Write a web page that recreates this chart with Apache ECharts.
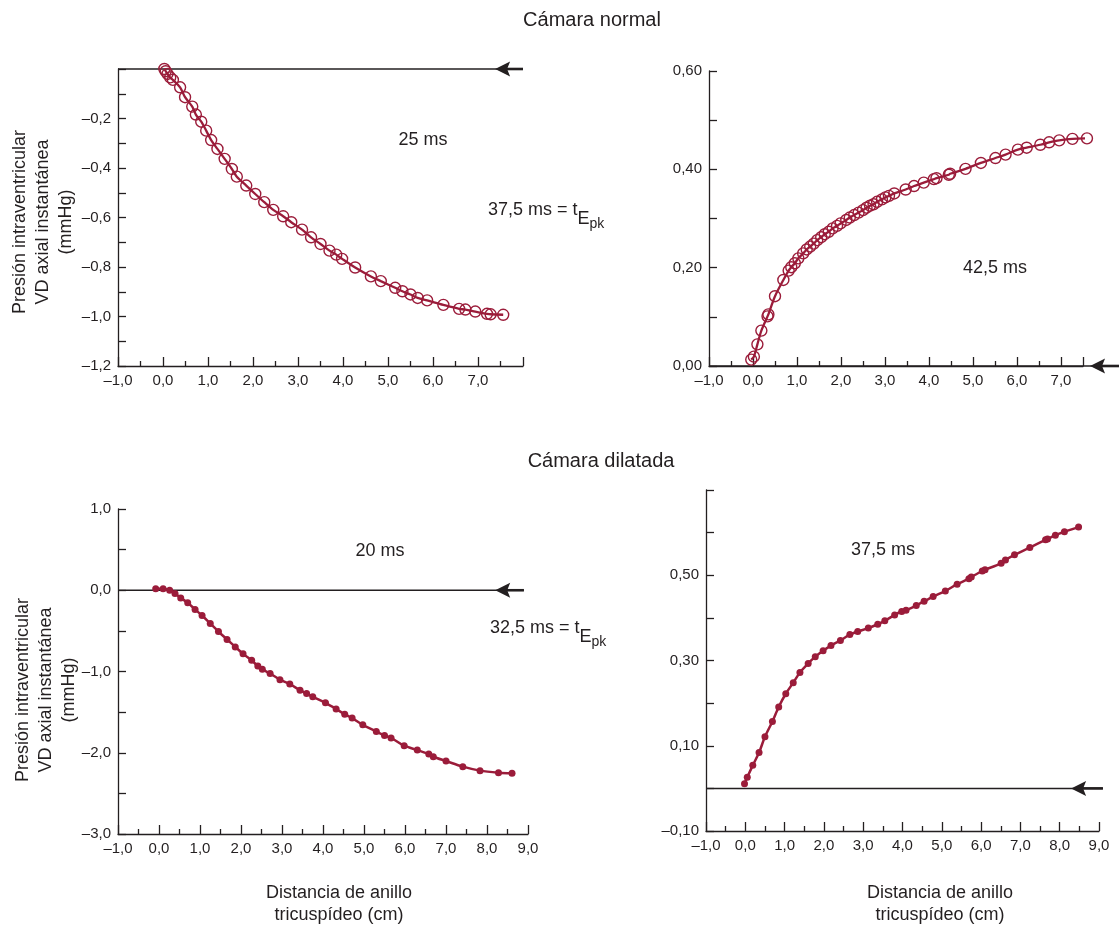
<!DOCTYPE html>
<html>
<head>
<meta charset="utf-8">
<script src="https://cdn.jsdelivr.net/npm/echarts@6/dist/echarts.min.js"></script>
<style>
  html, body { margin: 0; background: #fff; }
  #chart { width: 1119px; height: 928px; }
</style>
</head>
<body>
<div id="chart"></div>
<script>
// Cámara normal, 25 ms (open circles)
const normal25X = [0.03, 0.06, 0.10, 0.16, 0.22, 0.38, 0.49, 0.65, 0.73, 0.85, 0.96, 1.07, 1.21, 1.37, 1.53, 1.64,
  1.85, 2.05, 2.25, 2.45, 2.67, 2.85, 3.09, 3.29, 3.50, 3.70, 3.85, 3.98, 4.27, 4.62, 4.84, 5.16, 5.32, 5.50,
  5.66, 5.87, 6.23, 6.58, 6.72, 6.94, 7.20, 7.28, 7.56];
const normal25Y = [0.0, -0.009, -0.02, -0.034, -0.044, -0.074, -0.114, -0.152, -0.184, -0.213, -0.249, -0.287,
  -0.323, -0.363, -0.404, -0.435, -0.471, -0.505, -0.538, -0.569, -0.595, -0.619, -0.649, -0.680, -0.707, -0.734,
  -0.750, -0.767, -0.802, -0.838, -0.857, -0.884, -0.898, -0.911, -0.925, -0.935, -0.953, -0.969, -0.972, -0.980,
  -0.989, -0.991, -0.993];

// Cámara normal, 42,5 ms (open circles)
const normal42X = [-0.04, 0.02, 0.10, 0.19, 0.33, 0.35, 0.50, 0.69, 0.81, 0.87, 0.95, 1.03, 1.14, 1.22, 1.30, 1.38,
  1.46, 1.55, 1.63, 1.72, 1.81, 1.91, 1.99, 2.12, 2.20, 2.30, 2.40, 2.50, 2.58, 2.66, 2.74, 2.82, 2.93, 3.01, 3.09,
  3.21, 3.47, 3.66, 3.88, 4.11, 4.17, 4.45, 4.48, 4.83, 5.18, 5.51, 5.74, 6.02, 6.22, 6.53, 6.73, 6.96, 7.26, 7.59];
const normal42Y = [0.013, 0.019, 0.044, 0.072, 0.101, 0.105, 0.142, 0.175, 0.194, 0.201, 0.209, 0.219, 0.229, 0.237,
  0.243, 0.249, 0.256, 0.262, 0.268, 0.273, 0.280, 0.285, 0.290, 0.297, 0.302, 0.307, 0.312, 0.317, 0.322, 0.326,
  0.329, 0.334, 0.339, 0.343, 0.346, 0.351, 0.359, 0.366, 0.373, 0.380, 0.382, 0.389, 0.391, 0.401, 0.413, 0.423,
  0.430, 0.440, 0.444, 0.450, 0.455, 0.459, 0.462, 0.463];

// Cámara dilatada, 20 ms (filled dots)
const dilated20X = [-0.08, 0.10, 0.26, 0.39, 0.53, 0.70, 0.88, 1.05, 1.25, 1.45, 1.66, 1.86, 2.05, 2.26, 2.41, 2.52,
  2.71, 2.95, 3.19, 3.44, 3.60, 3.75, 4.06, 4.32, 4.53, 4.71, 4.97, 5.30, 5.50, 5.66, 5.98, 6.30, 6.58, 6.69, 7.00,
  7.41, 7.83, 8.28, 8.61];
const dilated20Y = [0.02, 0.02, 0.0, -0.039, -0.094, -0.154, -0.236, -0.311, -0.409, -0.508, -0.606, -0.697, -0.783,
  -0.862, -0.933, -0.972, -1.025, -1.100, -1.154, -1.232, -1.270, -1.311, -1.386, -1.461, -1.527, -1.573, -1.656,
  -1.739, -1.788, -1.817, -1.913, -1.967, -2.016, -2.049, -2.102, -2.171, -2.220, -2.245, -2.253];

// Cámara dilatada, 37,5 ms (filled dots)
const dilated37X = [-0.02, 0.05, 0.19, 0.35, 0.50, 0.69, 0.85, 1.03, 1.22, 1.39, 1.60, 1.78, 1.98, 2.18, 2.42, 2.66,
  2.86, 3.13, 3.37, 3.55, 3.80, 3.98, 4.09, 4.35, 4.55, 4.78, 5.09, 5.39, 5.69, 5.75, 6.03, 6.10, 6.51, 6.62, 6.85,
  7.24, 7.64, 7.69, 7.89, 8.12, 8.48];
const dilated37Y = [0.011, 0.026, 0.054, 0.084, 0.121, 0.157, 0.191, 0.222, 0.248, 0.272, 0.293, 0.309, 0.323, 0.335,
  0.347, 0.361, 0.368, 0.376, 0.385, 0.393, 0.407, 0.415, 0.418, 0.429, 0.439, 0.450, 0.463, 0.479, 0.492, 0.496,
  0.510, 0.513, 0.528, 0.536, 0.548, 0.565, 0.583, 0.585, 0.594, 0.602, 0.613];

// axis ranges: [min, max, interval]
const xRanges = [[-1, 8, 1], [-1, 7.5, 1], [-1, 9, 1], [-1, 9, 1]];
const xLabelMax = [7, 7, 9, 9];
const yRanges = [[-1.2, 0, 0.2], [0, 0.6, 0.2], [-3, 1, 1], [-0.1, 0.7, 0.1]];
const yDecimals = [1, 2, 1, 2];
// zero reference line (y = 0): where it ends on the right, and where the arrow tip sits
const zeroLineEnd = [8.0, 8.32, 8.9, 9.1];
const arrowTip = [7.38, 7.66, 8.2, 8.29];

const RED = '#9b1c3a';
const INK = '#231f20';
const FONT = "'Liberation Sans', Arial, Helvetica, sans-serif";

function fmt(v, d) {
  v = Math.round(v * 1000) / 1000;
  return (v < 0 ? '\u2013' : '') + Math.abs(v).toFixed(d).replace('.', ',');
}

const grids = [
  { left: 118, top: 69, width: 405, height: 297 },
  { left: 709, top: 71, width: 374, height: 295 },
  { left: 118, top: 509, width: 410, height: 325 },
  { left: 706, top: 490, width: 393, height: 341 }
];

const xAxes = xRanges.map((r, i) => ({
  type: 'value', gridIndex: i, min: r[0], max: r[1], interval: r[2],
  axisLine: { onZero: false, lineStyle: { color: INK, width: 1.3 } },
  axisTick: { show: true, inside: true, length: 9, lineStyle: { color: INK, width: 1.3 } },
  minorTick: { show: true, splitNumber: 2, length: 5, lineStyle: { color: INK, width: 1.3 } },
  splitLine: { show: false },
  axisLabel: {
    margin: 7, fontSize: 15, color: INK, fontFamily: FONT,
    formatter: v => (Math.abs(v - Math.round(v)) < 1e-6 && v <= xLabelMax[i]) ? fmt(v, 1) : ''
  }
}));

const yAxes = yRanges.map((r, i) => ({
  type: 'value', gridIndex: i, min: r[0], max: r[1], interval: r[2],
  axisLine: { onZero: false, lineStyle: { color: INK, width: 1.3 } },
  axisTick: { show: true, inside: true, length: 8, lineStyle: { color: INK, width: 1.3 } },
  minorTick: { show: i !== 3, splitNumber: 2, length: 8, lineStyle: { color: INK, width: 1.3 } },
  splitLine: { show: false },
  axisLabel: {
    margin: 7, fontSize: 15, color: INK, fontFamily: FONT,
    formatter: v => {
      if (i === 0 && Math.abs(v) < 1e-6) return '';
      if (i === 3) {
        const t = Math.round(v * 10);
        if (Math.abs(t) % 2 !== 1 || t === 7) return '';
      }
      return fmt(v, yDecimals[i]);
    }
  }
}));

function zip(xs, ys) { return xs.map((x, k) => [x, ys[k]]); }

function openSeries(i, xs, ys) {
  return {
    type: 'line', xAxisIndex: i, yAxisIndex: i, data: zip(xs, ys), smooth: 0.3,
    clip: false, animation: false, z: 3,
    symbol: 'circle', symbolSize: 11,
    itemStyle: { color: 'rgba(0,0,0,0)', borderColor: RED, borderWidth: 1.4 },
    lineStyle: { color: RED, width: 2.3 },
    emphasis: { disabled: true }
  };
}

function dotSeries(i, xs, ys) {
  return {
    type: 'line', xAxisIndex: i, yAxisIndex: i, data: zip(xs, ys), smooth: 0.3,
    clip: false, animation: false, z: 3,
    symbol: 'circle', symbolSize: 7,
    itemStyle: { color: RED },
    lineStyle: { color: RED, width: 2.5 },
    emphasis: { disabled: true }
  };
}

const ctx = document.createElement('canvas').getContext('2d');
function textW(s, size) { ctx.font = size + 'px ' + FONT; return ctx.measureText(s).width; }

function txt(s, x, y, size, align) {
  return {
    type: 'text', x: x, y: y, silent: true,
    style: { text: s, font: size + 'px ' + FONT, fill: INK, textAlign: align || 'center', textVerticalAlign: 'middle' }
  };
}

// "xx ms = tEpk" with stepped subscripts
function tEpk(label, x, y) {
  const main = label + ' = t';
  const w1 = textW(main, 18);
  const w2 = textW('E', 18);
  return [
    txt(main, x, y, 18, 'left'),
    txt('E', x + w1, y + 9, 18, 'left'),
    txt('pk', x + w1 + w2, y + 14, 14, 'left')
  ];
}

function yTitle(x, y) {
  return {
    type: 'text', x: x, y: y, rotation: Math.PI / 2, silent: true,
    style: {
      text: 'Presión intraventricular\nVD axial instantánea\n(mmHg)',
      font: '18px ' + FONT, fill: INK, textAlign: 'center', textVerticalAlign: 'middle', lineHeight: 23
    }
  };
}

function xTitle(x, y) {
  return {
    type: 'text', x: x, y: y, silent: true,
    style: {
      text: 'Distancia de anillo\ntricuspídeo (cm)',
      font: '18px ' + FONT, fill: INK, textAlign: 'center', textVerticalAlign: 'middle', lineHeight: 22
    }
  };
}

const chart = echarts.init(document.getElementById('chart'), null, { renderer: 'canvas' });
chart.setOption({
  animation: false,
  backgroundColor: '#fff',
  grid: grids,
  xAxis: xAxes,
  yAxis: yAxes,
  series: [
    openSeries(0, normal25X, normal25Y),
    openSeries(1, normal42X, normal42Y),
    dotSeries(2, dilated20X, dilated20Y),
    dotSeries(3, dilated37X, dilated37Y)
  ]
});

// zero line + left-pointing arrow, placed through each grid's own scales
function zeroArrow(i) {
  const a = chart.convertToPixel({ gridIndex: i }, [xRanges[i][0], 0]);
  const b = chart.convertToPixel({ gridIndex: i }, [zeroLineEnd[i], 0]);
  const t = chart.convertToPixel({ gridIndex: i }, [arrowTip[i], 0]);
  return [
    { type: 'line', silent: true, z: 2, shape: { x1: a[0], y1: a[1], x2: b[0], y2: b[1] },
      style: { stroke: INK, lineWidth: 1.5 } },
    { type: 'line', silent: true, z: 2, shape: { x1: t[0] + 8, y1: t[1], x2: b[0], y2: b[1] },
      style: { stroke: INK, lineWidth: 2.6 } },
    { type: 'polygon', silent: true, z: 2,
      shape: { points: [[t[0], t[1]], [t[0] + 15, t[1] - 7.5], [t[0] + 12, t[1]], [t[0] + 15, t[1] + 7.5]] },
      style: { fill: INK } }
  ];
}

const graphics = [
  txt('Cámara normal', 592, 20, 20),
  txt('Cámara dilatada', 601, 461, 20),
  yTitle(43, 222),
  yTitle(46, 690),
  txt('25 ms', 423, 140, 18),
  ...tEpk('37,5 ms', 488, 210),
  txt('42,5 ms', 995, 268, 18),
  txt('20 ms', 380, 551, 18),
  ...tEpk('32,5 ms', 490, 628),
  txt('37,5 ms', 883, 550, 18),
  xTitle(339, 904),
  xTitle(940, 904),
  ...zeroArrow(0), ...zeroArrow(1), ...zeroArrow(2), ...zeroArrow(3)
];
chart.setOption({ graphic: graphics });
</script>
</body>
</html>
